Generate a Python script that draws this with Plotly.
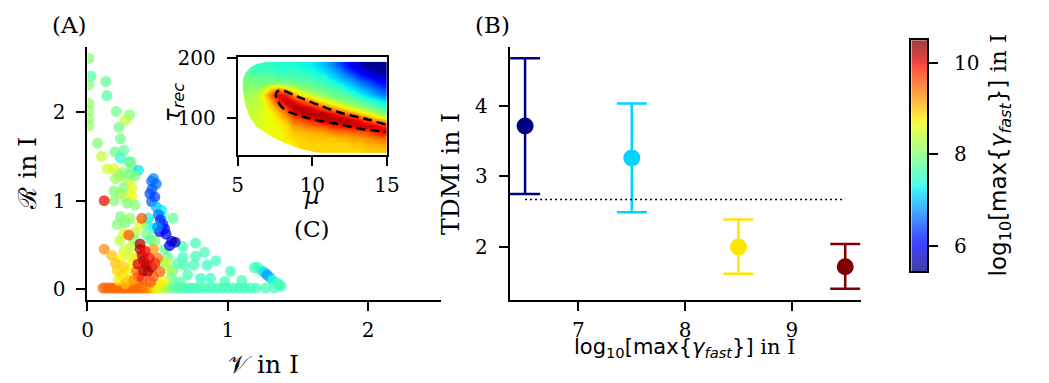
import numpy as np
import plotly.graph_objects as go

# ---------------- data ----------------
# Panel A: (V, R) pairs coloured by log10[max{gamma_fast}]
bottom_v = [0.11, 0.13, 0.15, 0.17, 0.19, 0.21, 0.23, 0.25, 0.27, 0.29, 0.31, 0.33, 0.35, 0.37,
            0.39, 0.41, 0.43, 0.45, 0.47, 0.49, 0.51, 0.53, 0.56, 0.59, 0.62, 0.65, 0.68, 0.71,
            0.74, 0.77, 0.80, 0.84, 0.88, 0.92, 0.96, 1.00, 1.04, 1.08, 1.12, 1.16, 1.20]
bottom_r = [0.01, 0.01, 0.01, 0.01, 0.01, 0.01, 0.01, 0.01, 0.01, 0.01, 0.01, 0.01, 0.01, 0.01,
            0.01, 0.01, 0.01, 0.01, 0.01, 0.01, 0.01, 0.01, 0.01, 0.01, 0.01, 0.01, 0.01, 0.01,
            0.01, 0.01, 0.01, 0.01, 0.01, 0.01, 0.01, 0.01, 0.01, 0.01, 0.01, 0.01, 0.01]
bottom_g = [9.5, 9.5, 9.5, 9.5, 9.5, 9.5, 9.5, 9.5, 9.5, 9.5, 9.5, 9.5, 9.5, 9.5,
            9.5, 9.4, 9.4, 9.3, 9.0, 8.8, 8.6, 8.4, 8.2, 8.0, 7.8, 7.7, 7.7, 7.6,
            7.6, 7.6, 7.6, 7.6, 7.6, 7.6, 7.6, 7.6, 7.6, 7.6, 7.6, 7.6, 7.6]

cyan_v = [0.527, 0.61, 0.434, 0.42, 0.475, 0.42, 0.45, 0.68, 0.77, 0.68, 0.77, 0.834, 0.76, 0.69,
          0.853, 0.916, 1.02, 0.713, 0.806, 0.876, 0.98, 1.10, 0.573, 0.61, 0.55, 0.52, 0.64,
          0.60, 0.66]
cyan_r = [0.82, 0.80, 0.80, 0.73, 0.69, 0.62, 0.56, 0.48, 0.52, 0.36, 0.37, 0.415, 0.27, 0.27,
          0.27, 0.32, 0.20, 0.16, 0.12, 0.12, 0.085, 0.096, 0.36, 0.21, 0.45, 0.30, 0.29,
          0.12, 0.08]
cyan_g = [7.4, 7.8, 7.3, 7.5, 7.3, 7.9, 7.7, 7.6, 7.6, 7.6, 7.6, 7.6, 7.6, 7.6,
          7.5, 7.6, 7.6, 7.6, 7.5, 7.5, 7.6, 7.6, 7.8, 8.0, 7.8, 8.0, 7.7,
          7.8, 7.7]

tail_v = [1.19, 1.21, 1.24, 1.26, 1.28, 1.30, 1.32, 1.35, 1.366, 1.27, 1.33, 1.38]
tail_r = [0.24, 0.25, 0.21, 0.19, 0.16, 0.13, 0.10, 0.07, 0.05, 0.01, 0.01, 0.03]
tail_g = [7.6, 7.6, 7.5, 7.2, 6.8, 7.0, 7.4, 7.5, 7.6, 7.6, 7.6, 7.6]

upper_v = [0.01, 0.026, 0.01, 0.01, 0.01, 0.01, 0.01, 0.13, 0.138, 0.205, 0.30, 0.27, 0.224,
           0.235, 0.072, 0.10, 0.196, 0.259, 0.235, 0.31, 0.294, 0.142, 0.189, 0.317, 0.364,
           0.229, 0.34, 0.289, 0.259, 0.317, 0.189, 0.235, 0.27, 0.317, 0.189, 0.282, 0.34,
           0.235, 0.305, 0.212, 0.27, 0.375, 0.259, 0.34, 0.33, 0.20, 0.25, 0.30]
upper_r = [2.61, 2.41, 2.31, 2.10, 2.02, 1.92, 1.85, 2.35, 2.19, 2.01, 1.97, 1.91, 1.83,
           1.70, 1.65, 1.50, 1.55, 1.57, 1.48, 1.44, 1.44, 1.36, 1.36, 1.37, 1.345,
           1.28, 1.28, 1.22, 1.15, 1.15, 1.11, 1.08, 1.04, 1.05, 1.00, 0.97, 0.95,
           0.82, 0.80, 0.73, 0.75, 0.73, 0.625, 0.64, 0.56, 1.25, 1.32, 1.30]
upper_g = [8.0, 7.7, 8.0, 8.1, 8.1, 8.1, 8.1, 7.8, 7.7, 7.9, 8.0, 8.4, 7.9,
           7.9, 8.0, 8.4, 7.9, 7.8, 7.5, 7.9, 7.8, 8.5, 8.5, 7.9, 7.2,
           8.0, 8.0, 8.4, 8.0, 8.6, 8.0, 8.1, 8.3, 8.7, 8.0, 8.0, 8.0,
           8.0, 8.1, 8.0, 8.0, 8.6, 8.6, 8.4, 8.0, 8.2, 8.1, 7.9]

cone_v = [0.25, 0.28, 0.30, 0.22, 0.27, 0.32, 0.30, 0.35, 0.26, 0.55, 0.52, 0.58, 0.56, 0.48,
          0.31, 0.23, 0.119, 0.172, 0.235, 0.20, 0.259, 0.212]
cone_r = [0.15, 0.20, 0.10, 0.10, 0.06, 0.28, 0.38, 0.35, 0.43, 0.10, 0.05, 0.22, 0.30, 0.55,
          0.48, 0.55, 0.45, 0.38, 0.34, 0.29, 0.25, 0.21]
cone_g = [8.9, 8.8, 8.9, 8.8, 9.0, 8.7, 8.6, 8.8, 8.5, 8.6, 8.8, 8.2, 8.4, 8.0,
          8.4, 8.4, 9.3, 9.0, 8.7, 9.0, 8.9, 8.9]

blue_v = [0.457, 0.47, 0.49, 0.445, 0.46, 0.48, 0.457, 0.49, 0.527, 0.505, 0.538, 0.515,
          0.56, 0.60, 0.625, 0.585, 0.52, 0.55, 0.50]
blue_r = [1.22, 1.25, 1.19, 1.08, 1.13, 1.04, 0.99, 0.93, 0.89, 0.84, 0.73, 0.65,
          0.62, 0.54, 0.53, 0.49, 0.78, 0.68, 0.70]
blue_g = [6.6, 6.7, 6.6, 6.4, 6.5, 6.4, 6.5, 7.0, 7.2, 6.6, 6.2, 6.0,
          6.0, 5.9, 5.6, 6.0, 6.3, 6.1, 6.8]

hot_v = [0.364, 0.515, 0.47, 0.50, 0.47, 0.35, 0.33, 0.45, 0.39, 0.387, 0.294, 0.119,
         0.375, 0.375, 0.40, 0.42, 0.457, 0.40, 0.43, 0.48, 0.39, 0.44, 0.36, 0.41]
hot_r = [0.14, 0.195, 0.14, 0.35, 0.45, 0.20, 0.10, 0.08, 0.12, 0.80, 0.61, 1.00,
         0.51, 0.45, 0.32, 0.27, 0.25, 0.21, 0.20, 0.29, 0.38, 0.35, 0.28, 0.43]
hot_g = [9.9, 9.5, 9.6, 9.4, 9.2, 9.5, 9.3, 9.6, 9.8, 9.6, 9.6, 10.0,
         10.3, 10.3, 10.4, 10.3, 10.2, 10.2, 10.3, 9.8, 10.2, 10.0, 10.1, 10.0]

# Panel B: mean TDMI per gamma_fast bin with error range
bin_centres = [6.5, 7.5, 8.5, 9.5]
tdmi_mean = [3.71, 3.26, 2.00, 1.72]
tdmi_low = [2.75, 2.49, 1.62, 1.41]
tdmi_high = [4.67, 4.03, 2.39, 2.04]
tdmi_reference = 2.67

# Inset C: log10[max{gamma_fast}] over (mu, tau_rec)
mu_centres = [5.25, 5.75, 6.25, 6.75, 7.25, 7.75, 8.25, 8.75, 9.25, 9.75,
              10.25, 10.75, 11.25, 11.75, 12.25, 12.75, 13.25, 13.75, 14.25, 14.75]
tau_centres = [48, 58, 68, 78, 88, 98, 108, 118, 128, 138, 148, 158, 168, 178, 188]
gamma_grid = [
    [8.8, 8.8, 8.8, 8.8, 8.8, 8.8, 8.8, 8.8, 8.9, 8.9, 8.9, 8.9, 8.9, 8.9, 8.9, 8.9, 8.9, 9.0, 9.0, 9.0],
    [8.8, 8.8, 8.8, 8.8, 8.8, 8.8, 8.7, 8.8, 8.9, 8.9, 8.9, 8.9, 8.9, 8.9, 8.9, 9.0, 9.0, 9.1, 9.1, 9.2],
    [8.7, 8.7, 8.7, 8.7, 8.7, 8.7, 8.8, 8.9, 8.9, 9.0, 9.0, 9.0, 9.0, 9.1, 9.1, 9.2, 9.2, 9.3, 9.4, 9.5],
    [8.6, 8.6, 8.6, 8.7, 8.7, 8.7, 8.8, 9.0, 9.0, 9.1, 9.1, 9.2, 9.3, 9.4, 9.4, 9.5, 9.6, 9.7, 9.9, 10.1],
    [8.5, 8.5, 8.5, 8.6, 8.7, 8.7, 8.9, 9.2, 9.3, 9.4, 9.5, 9.6, 9.8, 9.9, 10.0, 10.1, 10.2, 10.2, 10.1, 9.9],
    [8.5, 8.5, 8.5, 8.6, 8.7, 8.8, 9.1, 9.5, 9.6, 9.8, 10.0, 10.2, 10.3, 10.3, 10.3, 10.1, 9.9, 9.6, 9.3, 9.0],
    [8.4, 8.4, 8.5, 8.6, 8.7, 9.0, 9.4, 9.9, 10.1, 10.3, 10.3, 10.3, 10.1, 9.9, 9.6, 9.3, 9.0, 8.7, 8.4, 8.1],
    [8.4, 8.4, 8.4, 8.6, 8.9, 9.3, 9.8, 10.3, 10.3, 10.1, 9.9, 9.6, 9.3, 9.0, 8.7, 8.4, 8.2, 8.0, 7.8, 7.6],
    [8.3, 8.3, 8.3, 8.6, 9.2, 9.9, 10.3, 10.0, 9.7, 9.4, 9.0, 8.7, 8.4, 8.2, 8.0, 7.9, 7.7, 7.5, 7.4, 7.2],
    [8.2, 8.2, 8.3, 8.8, 9.6, 10.1, 9.9, 9.3, 8.8, 8.5, 8.3, 8.1, 7.9, 7.8, 7.7, 7.5, 7.3, 7.1, 6.9, 6.7],
    [8.1, 8.1, 8.1, 8.4, 9.0, 9.3, 8.9, 8.5, 8.2, 8.0, 7.9, 7.8, 7.7, 7.6, 7.4, 7.2, 7.0, 6.8, 6.6, 6.4],
    [8.0, 8.0, 7.9, 7.9, 8.0, 8.0, 7.9, 7.9, 7.8, 7.8, 7.7, 7.6, 7.5, 7.3, 7.1, 6.9, 6.7, 6.5, 6.3, 6.1],
    [7.9, 7.9, 7.8, 7.8, 7.8, 7.7, 7.7, 7.7, 7.6, 7.6, 7.5, 7.4, 7.2, 7.0, 6.8, 6.6, 6.3, 6.1, 5.9, 5.8],
    [7.7, 7.7, 7.6, 7.6, 7.6, 7.5, 7.5, 7.5, 7.5, 7.4, 7.3, 7.2, 7.0, 6.8, 6.5, 6.2, 5.9, 5.7, 5.6, 5.5],
    [7.6, 7.6, 7.5, 7.5, 7.5, 7.4, 7.4, 7.4, 7.3, 7.3, 7.2, 7.0, 6.8, 6.5, 6.2, 5.9, 5.7, 5.5, 5.5, 5.5],
]
# Outline of the (mu, tau_rec) region outside the simulated parameter domain
blank_mu = [5, 15, 15, 8.0, 7.0, 6.3, 5.8, 5.5, 5.35, 5.33, 5.4, 5.5, 5.8, 6.27, 6.8,
            7.25, 8.2, 9.3, 10.3, 11.5, 5, 5]
blank_tau = [201.6, 201.6, 194, 194, 193, 190, 183, 174, 165, 150, 135, 123, 102, 86, 78,
             70, 59, 49, 43.5, 40, 40, 201.6]
# Iso-line around the ridge of maximal gamma_fast
ridge_mu = [14.9, 13.6, 11.84, 10.3, 8.99, 7.9, 7.63, 7.55, 7.63, 7.9, 8.33, 9.2, 10.5, 11.84, 13.2, 14.9]
ridge_tau = [90, 99, 109.5, 123, 136, 146.5, 144, 138, 131.7, 120, 112, 104, 96, 90, 83, 78]

G_MIN, G_MAX = 5.44, 10.5
colorbar_ticks = [6, 8, 10]

# ---------------- styling helpers ----------------
SERIF = "DejaVu Serif"
SANS = "DejaVu Sans"


def jet(t):
    r = np.interp(t, [0, .35, .66, .89, 1], [0, 0, 1, 1, .5])
    g = np.interp(t, [0, .125, .375, .64, .91, 1], [0, 0, 1, 1, 0, 0])
    b = np.interp(t, [0, .11, .34, .65, 1], [.5, 1, 1, 0, 0])
    return r, g, b


def rgb(c, alpha=1.0):
    r, g, b = (alpha * v + (1 - alpha) for v in c)
    return f"rgb({round(r * 255)},{round(g * 255)},{round(b * 255)})"


stops = np.linspace(0, 1, 61)
jet_scale = [[float(s), rgb(jet(s))] for s in stops]
jet_faded = [[float(s), rgb(jet(s), 0.75)] for s in stops]

W, H = 1049, 383


def px(x):
    return x / W


def py(y):
    return 1 - y / H


axis_common = dict(showline=True, linecolor="black", linewidth=2, ticks="outside",
                   ticklen=9, tickwidth=2, tickcolor="black", showgrid=False,
                   zeroline=False, tickfont=dict(family=SERIF, size=20, color="black"))
x_axis_style = dict(axis_common, ticklabelstandoff=2)
y_axis_style = dict(axis_common, ticklabelstandoff=7)

fig = go.Figure()

# ---------------- panel A ----------------
all_v = bottom_v + cyan_v + tail_v + upper_v + cone_v + blue_v + hot_v
all_r = bottom_r + cyan_r + tail_r + upper_r + cone_r + blue_r + hot_r
all_g = bottom_g + cyan_g + tail_g + upper_g + cone_g + blue_g + hot_g
fig.add_trace(go.Scatter(
    x=all_v, y=all_r, mode="markers", xaxis="x", yaxis="y", showlegend=False,
    marker=dict(size=11, color=all_g, colorscale=jet_scale, cmin=G_MIN, cmax=G_MAX,
                opacity=0.72, line=dict(width=0)),
))

# ---------------- colour bar (own small axes, same normalisation) ----------------
bar_levels = np.linspace(G_MIN, G_MAX, 256)
fig.add_trace(go.Heatmap(
    x=[0], y=bar_levels, z=[[v] for v in bar_levels], colorscale=jet_faded,
    zmin=G_MIN, zmax=G_MAX, showscale=False, zsmooth="best", xaxis="x4", yaxis="y4",
    hoverinfo="skip",
))

# ---------------- inset C ----------------
fig.add_trace(go.Heatmap(
    x=mu_centres, y=tau_centres, z=gamma_grid, colorscale=jet_scale, zmin=G_MIN, zmax=G_MAX,
    showscale=False, zsmooth="best", xaxis="x3", yaxis="y3",
))
fig.add_trace(go.Scatter(
    x=blank_mu, y=blank_tau, mode="lines", fill="toself", fillcolor="white",
    line=dict(width=0, color="white"), xaxis="x3", yaxis="y3", showlegend=False,
    hoverinfo="skip",
))
fig.add_trace(go.Scatter(
    x=ridge_mu, y=ridge_tau, mode="lines", xaxis="x3", yaxis="y3", showlegend=False,
    line=dict(color="black", width=2.5, dash="9px,5px", shape="spline"),
))

# ---------------- panel B ----------------
n_bins = len(bin_centres)
for i in range(n_bins):
    col = rgb(jet(i / (n_bins - 1)))
    fig.add_trace(go.Scatter(
        x=[bin_centres[i]], y=[tdmi_mean[i]], mode="markers", xaxis="x2", yaxis="y2",
        showlegend=False,
        marker=dict(size=17, color=col),
        error_y=dict(type="data", symmetric=False,
                     array=[tdmi_high[i] - tdmi_mean[i]],
                     arrayminus=[tdmi_mean[i] - tdmi_low[i]],
                     color=col, thickness=2.5, width=15),
    ))
fig.add_trace(go.Scatter(
    x=[bin_centres[0], bin_centres[-1]], y=[tdmi_reference, tdmi_reference], mode="lines",
    xaxis="x2", yaxis="y2", showlegend=False,
    line=dict(color="black", width=1.5, dash="2px,3px"),
))

fig.update_layout(
    width=W, height=H, margin=dict(l=0, r=0, t=0, b=0), autosize=False,
    paper_bgcolor="white", plot_bgcolor="rgba(0,0,0,0)",
    xaxis=dict(domain=[px(83), px(443)], range=[0, 2.52], tickvals=[0, 1, 2],
               anchor="y", **x_axis_style),
    yaxis=dict(domain=[py(298), py(37)], range=[-0.13, 2.74], tickvals=[0, 1, 2],
               anchor="x", **y_axis_style),
    xaxis2=dict(domain=[px(513), px(871)], range=[6.356, 9.65], tickvals=[7, 8, 9],
                anchor="y2", **x_axis_style),
    yaxis2=dict(domain=[py(298), py(37)], range=[1.243, 4.83], tickvals=[2, 3, 4],
                anchor="x2", **y_axis_style),
    xaxis3=dict(domain=[px(236), px(388)], range=[5, 15], tickvals=[5, 10, 15],
                anchor="y3", mirror=True, **x_axis_style),
    yaxis3=dict(domain=[py(148), py(47)], range=[40, 201.6], tickvals=[100, 200],
                anchor="x3", mirror=True, **y_axis_style),
    xaxis4=dict(domain=[px(922), px(938)], range=[-0.5, 0.5], anchor="y4",
                showline=True, mirror=True, linecolor="black", linewidth=2,
                showticklabels=False, ticks="", showgrid=False, zeroline=False,
                fixedrange=True),
    yaxis4=dict(domain=[py(268), py(30)], range=[G_MIN, G_MAX], anchor="x4", side="right",
                mirror=True, tickvals=colorbar_ticks, **dict(axis_common, ticklabelstandoff=12)),
)

serif_font = dict(family=SERIF, size=25, color="black")
sans_font = dict(family=SANS, size=23, color="black")
panel_font = dict(family=SERIF, size=23, color="black")
gamma_label = ("log<sub>10</sub>[max{<i>γ</i><sub><i>fast</i></sub>}] "
               f"<span style='font-family:{SERIF}'>in I</span>")
notes = [
    dict(x=px(65), y=py(14), text="(A)", font=panel_font),
    dict(x=px(495), y=py(14), text="(B)", font=panel_font),
    dict(x=px(312), y=py(224), text="(C)", font=panel_font),
    dict(x=px(22), y=py(167), text="ℛ in I", textangle=-90, font=serif_font),
    dict(x=px(262), y=py(364), text="𝒱 in I", font=serif_font),
    dict(x=px(452), y=py(168), text="TDMI in I", textangle=-90, font=serif_font),
    dict(x=px(312), y=py(190), text="<i>μ</i>", font=sans_font),
    dict(x=px(171), y=py(94), text="<i>τ</i><sub><i>rec</i></sub>", textangle=-90,
         font=sans_font),
    dict(x=px(692), y=py(347), text=gamma_label,
         font=dict(family=SANS, size=21, color="black")),
    dict(x=px(1012), y=py(148), textangle=-90, text=gamma_label,
         font=dict(family=SANS, size=23, color="black")),
]
for a in notes:
    fig.add_annotation(xref="paper", yref="paper", showarrow=False,
                       xanchor="center", yanchor="middle", **a)

fig.write_html("out.html")
